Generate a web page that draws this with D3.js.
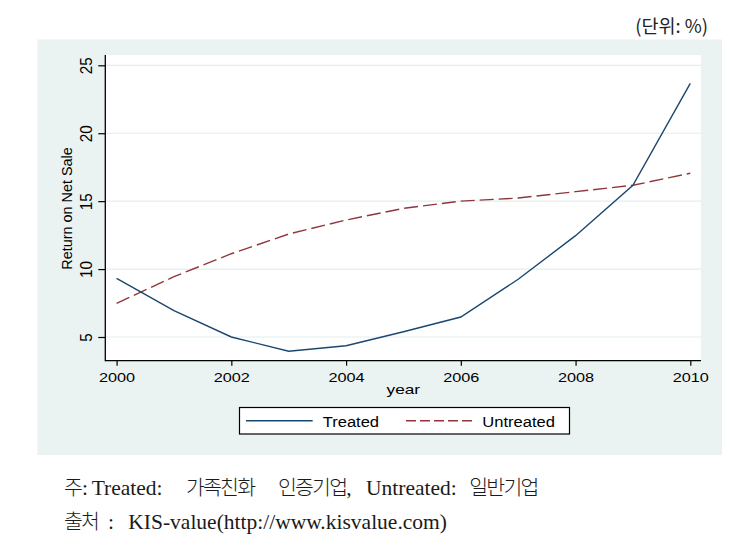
<!DOCTYPE html>
<html>
<head>
<meta charset="utf-8">
<script src="https://cdn.jsdelivr.net/npm/d3@7/dist/d3.min.js"></script>
<style>
  html, body { margin: 0; padding: 0; background: #ffffff; }
  svg { display: block; }
</style>
</head>
<body>
<div id="chart"></div>
<script>
// ---- data ----
const years = [2000, 2001, 2002, 2003, 2004, 2005, 2006, 2007, 2008, 2009, 2010];
const treated = [9.32, 6.94, 5.0, 3.95, 4.36, 5.39, 6.47, 9.25, 12.46, 16.17, 23.67];
const untreated = [7.48, 9.44, 11.13, 12.58, 13.61, 14.47, 15.0, 15.23, 15.7, 16.17, 17.05];
const xTicks = [2000, 2002, 2004, 2006, 2008, 2010];
const yTicks = [5, 10, 15, 20, 25];
const seriesNames = ["Treated", "Untreated"];
const yTitle = "Return on Net Sale";
const xTitle = "year";
const unitLabel = "(단위: %)";

// ---- layout ----
const W = 735, H = 547;
const svg = d3.select("#chart").append("svg").attr("width", W).attr("height", H);

const plotL = 105.3, plotR = 701, plotT = 55, plotB = 360.7;
const x = d3.scaleLinear().domain([2000, 2010]).range([116.6, 690.3]);
const y = d3.scaleLinear().domain([5, 25]).range([337, 65.3]);

const navy = "#1a476f", maroon = "#90353b";
const sans = "Arial, 'Liberation Sans', Helvetica, sans-serif";

// graph region background
svg.append("rect").attr("x", 37.5).attr("y", 39.5).attr("width", 684.5).attr("height", 415.5)
  .attr("fill", "#eaf2f2");
// plot region
svg.append("rect").attr("x", plotL).attr("y", plotT).attr("width", plotR - plotL).attr("height", plotB - plotT)
  .attr("fill", "#ffffff");

// gridlines
svg.append("g").selectAll("line").data(yTicks).join("line")
  .attr("x1", plotL).attr("x2", plotR)
  .attr("y1", d => y(d)).attr("y2", d => y(d))
  .attr("stroke", "#e4eded").attr("stroke-width", 1.2);

// y axis
const gy = svg.append("g").attr("transform", `translate(${plotL},0)`)
  .call(d3.axisLeft(y).tickValues(yTicks).tickSize(7).tickFormat(d3.format("d")));
gy.select(".domain").remove();
gy.selectAll(".tick line").attr("stroke", "#000").attr("stroke-width", 1.2);
gy.selectAll(".tick text")
  .attr("x", 0).attr("y", -12).attr("dy", null)
  .attr("text-anchor", "middle")
  .attr("transform", "scale(1.07,1) rotate(-90)")
  .attr("font-family", sans).attr("font-size", 15.3).attr("fill", "#000");

// x axis
const gx = svg.append("g").attr("transform", `translate(0,${plotB})`)
  .call(d3.axisBottom(x).tickValues(xTicks).tickSize(5).tickFormat(d3.format("d")));
gx.select(".domain").remove();
gx.selectAll(".tick line").attr("stroke", "#000").attr("stroke-width", 1.2);
gx.selectAll(".tick text")
  .attr("y", 21).attr("dy", null)
  .attr("transform", "scale(1.25,1)")
  .attr("font-family", sans).attr("font-size", 13).attr("fill", "#000");

// axis lines
svg.append("line").attr("x1", plotL).attr("x2", plotL).attr("y1", plotT).attr("y2", plotB + 0.6)
  .attr("stroke", "#000").attr("stroke-width", 1.3);
svg.append("line").attr("x1", plotL).attr("x2", plotR).attr("y1", plotB).attr("y2", plotB)
  .attr("stroke", "#000").attr("stroke-width", 1.3);

// axis titles
svg.append("text").attr("transform", "translate(71.7,208.5) scale(1.04,1) rotate(-90)")
  .attr("text-anchor", "middle").attr("font-family", sans).attr("font-size", 14.4).attr("fill", "#000")
  .text(yTitle);
svg.append("text").attr("transform", "translate(403.3,393.5) scale(1.28,1)")
  .attr("text-anchor", "middle").attr("font-family", sans).attr("font-size", 13.5).attr("fill", "#000")
  .text(xTitle);

// lines
const line = d3.line().x((d, i) => x(years[i])).y(d => y(d));
svg.append("path").datum(untreated).attr("d", line)
  .attr("fill", "none").attr("stroke", maroon).attr("stroke-width", 1.4)
  .attr("stroke-dasharray", "14,5");
svg.append("path").datum(treated).attr("d", line)
  .attr("fill", "none").attr("stroke", navy).attr("stroke-width", 1.4);

// legend
const lg = svg.append("g");
lg.append("rect").attr("x", 239.5).attr("y", 407.5).attr("width", 330).attr("height", 26.5)
  .attr("fill", "#fff").attr("stroke", "#000").attr("stroke-width", 1.2);
lg.append("line").attr("x1", 246).attr("x2", 312.7).attr("y1", 420.7).attr("y2", 420.7)
  .attr("stroke", navy).attr("stroke-width", 1.4);
lg.append("line").attr("x1", 406).attr("x2", 472).attr("y1", 420.7).attr("y2", 420.7)
  .attr("stroke", maroon).attr("stroke-width", 1.4).attr("stroke-dasharray", "10,4");
[[322.7, seriesNames[0]], [482.3, seriesNames[1]]].forEach(([lx, t]) => {
  lg.append("text").attr("transform", `translate(${lx},426.7) scale(1.11,1)`)
    .attr("font-family", sans).attr("font-size", 14.9).attr("fill", "#000").text(t);
});

// unit label
svg.append("text").attr("x", 708).attr("y", 33).attr("text-anchor", "end")
  .attr("font-family", "'Noto Sans CJK KR', sans-serif").attr("font-size", 18.5).attr("fill", "#222")
  .text(unitLabel);

// footnotes
const serif = "'Liberation Serif', 'Times New Roman', 'Noto Sans CJK KR', serif";
const kfont = "'Noto Sans CJK KR', sans-serif";
const note1 = [["주", 64, 1], [":", 82, 0], ["Treated:", 91.7, 0], ["가족친화", 186, 1], ["인증기업", 278, 1], [",", null, 0],
               ["Untreated:", 366, 0], ["일반기업", 469.3, 1]];
const note2 = [["출처", 64, 1], [":", 108, 0], ["KIS-value(http://www.kisvalue.com)", 128.3, 0]];
function drawNote(parts, baseY) {
  const t = svg.append("text").attr("y", baseY).attr("fill", "#1a1a1a");
  parts.forEach(([s, px, k]) => {
    const ts = t.append("tspan")
      .attr("font-family", k ? kfont : serif)
      .attr("font-size", k ? 20.5 : 21.5)
      .attr("letter-spacing", k ? -1.8 : 0)
      .attr("font-weight", k ? 300 : 400)
      .text(s);
    if (px !== null) ts.attr("x", px);
  });
}
drawNote(note1, 494.5);
drawNote(note2, 528.5);
</script>
</body>
</html>
